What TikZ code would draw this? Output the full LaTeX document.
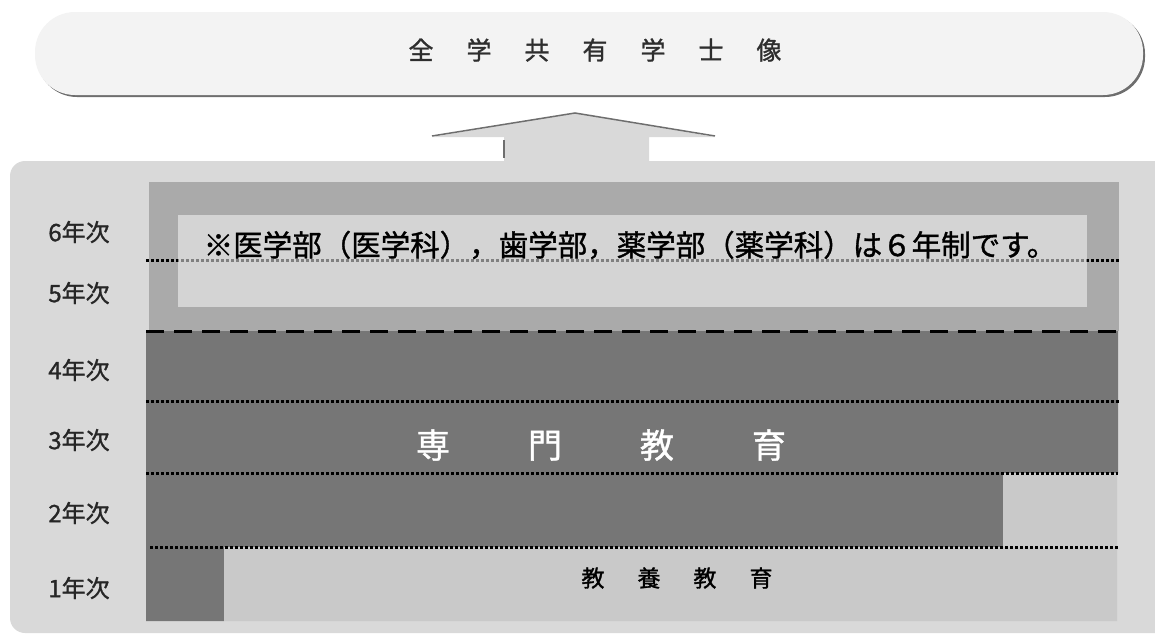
\documentclass[tikz,border=0pt]{standalone}
\usepackage{fontspec}
\setmainfont{Noto Sans CJK JP}
\newfontfamily\jpmedium[FakeBold=1.2]{Noto Sans CJK JP}
\usepackage{xcolor}
\usepackage{tikz}

\definecolor{bannerbg}{HTML}{F3F3F3}
\definecolor{bannershade}{HTML}{6E6E6E}
\definecolor{panelbg}{HTML}{D9D9D9}
\definecolor{upperbg}{HTML}{AAAAAA}
\definecolor{senmonbg}{HTML}{767676}
\definecolor{kyoyobg}{HTML}{C9C9C9}
\definecolor{inktext}{HTML}{2E2E2E}

\begin{document}
\begin{tikzpicture}[x=1pt,y=-1pt,
    yearlabel/.style={font=\jpmedium\fontsize{24}{24}\selectfont, text=black!85, inner sep=0pt},
    dotline/.style={line width=3pt, dash pattern=on 3pt off 2pt},
  ]
    \useasboundingbox (0,0) rectangle (1155,635);

    % background panel and arrow
    \fill[panelbg, rounded corners=15pt] (10,161) rectangle (1185,633);
    \fill[panelbg] (432,137) -- (575,113) -- (715,137) -- (649,137) -- (649,161) -- (504,161) -- (504,137) -- cycle;
    \draw[bannershade, line width=1.5pt] (432,136) -- (575,113) -- (715,136);
    \draw[bannershade, line width=1.5pt] (504,140) -- (504,158);

    % banner
    \fill[bannershade, rounded corners=40pt] (37,14) rectangle (1145,97);
    \fill[bannerbg, rounded corners=40pt] (35,12) rectangle (1143,95);
    \node[font=\jpmedium\fontsize{25}{25}\selectfont, text=inktext] (gakushi) at (595,50)
        {全\hspace{33pt}学\hspace{33pt}共\hspace{33pt}有\hspace{33pt}学\hspace{33pt}士\hspace{33pt}像};

    % 5th/6th year
    \fill[upperbg] (149,182) rectangle (1119,331);
    \draw[dotline] (146,260) -- (1119,260);
    \fill[white, fill opacity=0.5] (178,215) rectangle (1087,307);
    \node[font=\jpmedium\fontsize{29.5}{29.5}\selectfont] (note) at (630,245)
        {※医学部（医学科），歯学部，薬学部（薬学科）は６年制です。};

    % specialised and general education
    \fill[senmonbg] (146,331) -- (1118,331) -- (1118,473) -- (1003,473) -- (1003,547)
        -- (224,547) -- (224,621) -- (146,621) -- cycle;
    \fill[kyoyobg] (224,547) -- (1003,547) -- (1003,473) -- (1117,473) -- (1117,621)
        -- (224,621) -- cycle;
    \draw[line width=3pt, dash pattern=on 18pt off 10pt] (146,331) -- (1119,331);
    \draw[dotline] (146,401) -- (1119,401);
    \draw[dotline] (146,473) -- (1118,473);
    \draw[dotline] (150,547) -- (1118,547);

    \node[font=\jpmedium\fontsize{34}{34}\selectfont, text=white] (senmon) at (601,445)
        {専\hspace{78pt}門\hspace{78pt}教\hspace{78pt}育};
    \node[font=\jpmedium\fontsize{23}{23}\selectfont] (kyoyo) at (677,578)
        {教\hspace{33pt}養\hspace{33pt}教\hspace{33pt}育};

    % year labels
    \foreach \yr/\ypos in {6/232,5/293,4/370,3/440,2/513,1/588}
        \node[yearlabel] (year\yr) at (79,\ypos) {\yr 年次};
\end{tikzpicture}
\end{document}
